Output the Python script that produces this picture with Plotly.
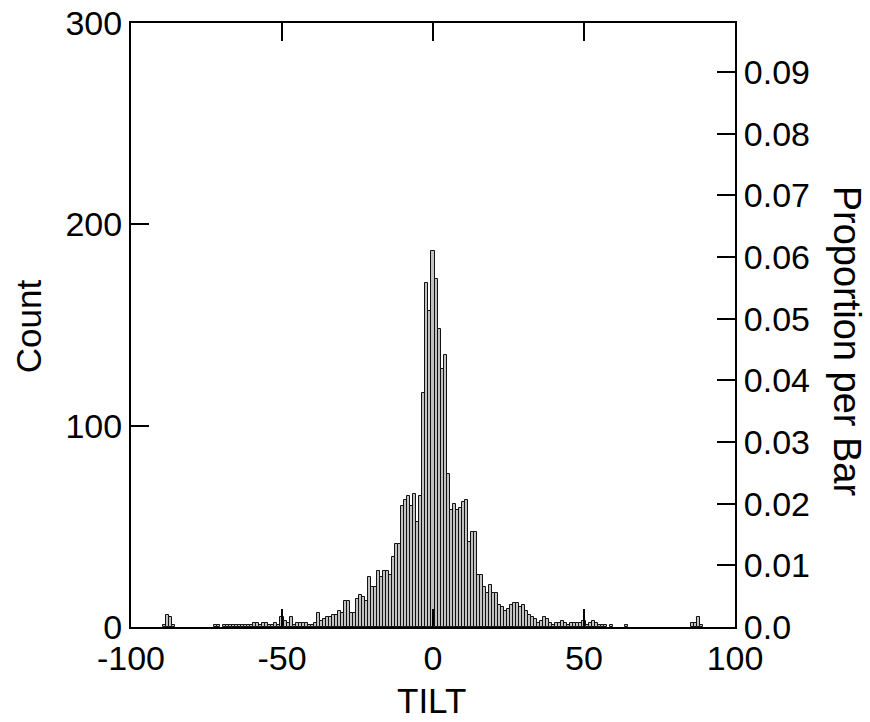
import plotly.graph_objects as go

# ---- data (1-degree bins, given by their centres) ----
bin_centers = [-89, -88, -87, -86,
               -72, -71, -69, -68, -67, -66, -65, -64, -63, -62, -61, -60, -59, -58, -57, -56,
               -55, -54, -53, -52, -51, -50, -49, -48, -47, -46, -45, -44, -43, -42, -41, -40,
               -39, -38, -37, -36, -35, -34, -33, -32, -31, -30, -29, -28, -27, -26, -25, -24,
               -23, -22, -21, -20, -19, -18, -17, -16, -15, -14, -13, -12, -11, -10, -9, -8,
               -7, -6, -5, -4, -3, -2, -1, 0, 1, 2, 3, 4, 5, 6, 7, 8, 9, 10, 11, 12, 13, 14,
               15, 16, 17, 18, 19, 20, 21, 22, 23, 24, 25, 26, 27, 28, 29, 30, 31, 32, 33, 34,
               35, 36, 37, 38, 39, 40, 41, 42, 43, 44, 45, 46, 47, 48, 49, 50, 51, 52, 53, 54,
               55, 56, 57, 59, 64, 86, 87, 88, 89]
counts = [1, 6, 5, 1,
          1, 1, 1, 1, 1, 1, 1, 1, 1, 1, 1, 1, 2, 2, 1, 2,
          2, 1, 1, 2, 1, 5, 3, 2, 5, 1, 2, 2, 2, 2, 1, 1,
          2, 7, 3, 4, 5, 5, 6, 6, 8, 7, 13, 13, 7, 7, 14, 16,
          15, 13, 25, 20, 20, 28, 25, 28, 28, 26, 35, 41, 41, 60, 63, 65,
          60, 66, 52, 65, 116, 171, 157, 187, 173, 148, 128, 135, 76, 58, 61, 58, 59, 62, 63, 42, 47, 47,
          26, 26, 20, 17, 21, 17, 17, 11, 10, 8, 9, 11, 12, 12, 10, 11, 8, 6, 5, 4,
          2, 3, 5, 4, 2, 1, 2, 2, 3, 2, 1, 2, 2, 2, 2, 3, 1, 2, 3, 2,
          1, 1, 1, 1, 1, 2, 2, 5, 1]
total_n = 3062  # total implied by the "Proportion per Bar" scale

x_ticks = [-100, -50, 0, 50, 100]
x_labels = ["-100", "-50", "0", "50", "100"]
count_ticks = [0, 100, 200, 300]
prop_ticks = [0.0, 0.01, 0.02, 0.03, 0.04, 0.05, 0.06, 0.07, 0.08, 0.09]
prop_labels = ["0.0", "0.01", "0.02", "0.03", "0.04", "0.05", "0.06", "0.07", "0.08", "0.09"]

count_max = 300
FONT = "Liberation Sans, Arial, Helvetica, sans-serif"

fig = go.Figure()
fig.add_trace(go.Bar(
    x=bin_centers, y=counts, width=1,
    marker=dict(color="#c2c2c2", line=dict(color="#111111", width=1)),
    showlegend=False, hoverinfo="x+y",
))
fig.add_trace(go.Scatter(
    x=bin_centers, y=[c / total_n for c in counts], yaxis="y2",
    mode="markers", marker=dict(opacity=0), showlegend=False, hoverinfo="skip",
))

axis_common = dict(
    ticks="inside", ticklen=18, tickwidth=2, tickcolor="black",
    showline=True, linewidth=2, linecolor="black",
    showgrid=False, zeroline=False, automargin=False,
    tickfont=dict(family=FONT, size=34, color="black"),
)

fig.update_layout(
    template="none",
    width=870, height=722,
    margin=dict(l=131, r=135, t=23, b=95, autoexpand=False),
    paper_bgcolor="white", plot_bgcolor="white",
    font=dict(family=FONT, color="black"),
    bargap=0,
    xaxis=dict(range=[-100, 100], tickvals=x_ticks, ticktext=x_labels, mirror="ticks", **axis_common),
    yaxis=dict(range=[0, count_max], tickvals=count_ticks, mirror=True, **axis_common),
    yaxis2=dict(range=[0, count_max / total_n], tickvals=prop_ticks, ticktext=prop_labels,
                overlaying="y", side="right", **axis_common),
    annotations=[
        dict(text="TILT", x=0.497, y=-0.1215, xref="paper", yref="paper",
             xanchor="center", yanchor="middle", showarrow=False,
             font=dict(family=FONT, size=35, color="black")),
        dict(text="Count", x=-0.1705, y=0.498, xref="paper", yref="paper",
             xanchor="center", yanchor="middle", showarrow=False, textangle=-90,
             font=dict(family=FONT, size=35, color="black")),
        dict(text="Proportion per Bar", x=1.186, y=0.4735, xref="paper", yref="paper",
             xanchor="center", yanchor="middle", showarrow=False, textangle=90,
             font=dict(family=FONT, size=38, color="black")),
    ],
)

fig.write_html("out.html", config={"displayModeBar": False})

# remove the browser's default 8px page margin so the figure sits at (0, 0)
with open("out.html", "r", encoding="utf-8") as f:
    html = f.read()
html = html.replace("<head>", "<head><style>html,body{margin:0;padding:0;overflow:hidden;}</style>", 1)
with open("out.html", "w", encoding="utf-8") as f:
    f.write(html)
